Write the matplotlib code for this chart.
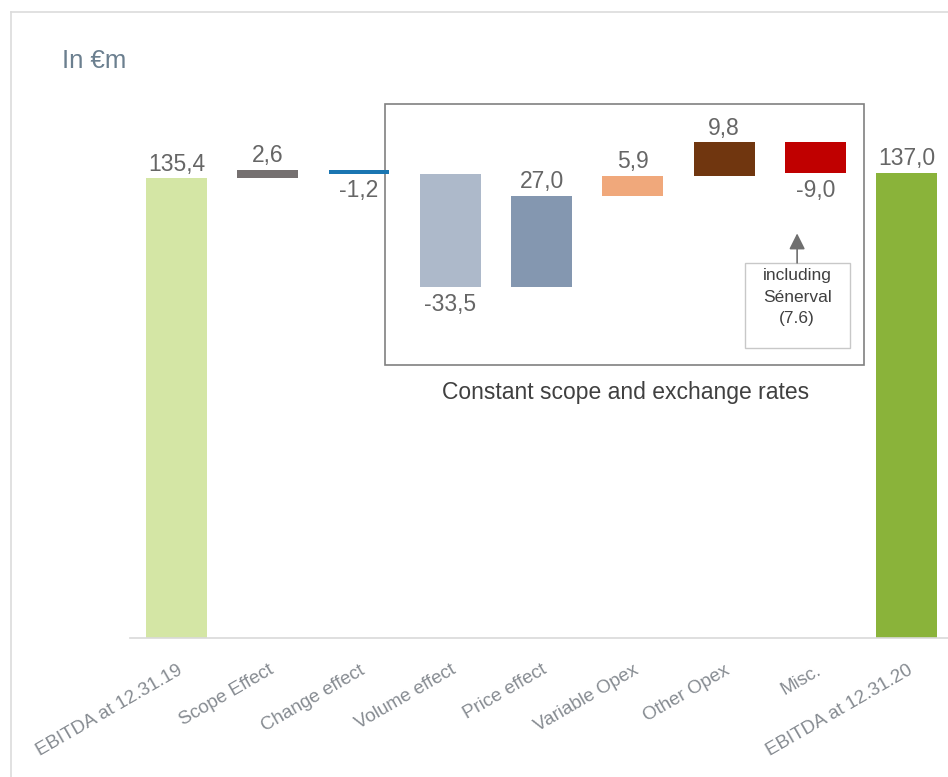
import matplotlib.pyplot as plt
from matplotlib.patches import Rectangle
from matplotlib.lines import Line2D

plt.rcParams['font.family'] = ['Liberation Sans', 'DejaVu Sans']

# data
categories = ['EBITDA at 12.31.19', 'Scope Effect', 'Change effect', 'Volume effect',
              'Price effect', 'Variable Opex', 'Other Opex', 'Misc.', 'EBITDA at 12.31.20']
values = [135.4, 2.6, -1.2, -33.5, 27.0, 5.9, 9.8, -9.0, 137.0]
is_total = [True, False, False, False, False, False, False, False, True]
colors = ['#d4e6a5', '#757070', '#1a76b2', '#adb9ca', '#8497b0',
          '#f0a87b', '#70360f', '#c00000', '#8ab33a']

# waterfall geometry
bottoms = []
heights = []
run = 0.0
for v, tot in zip(values, is_total):
    if tot:
        bottoms.append(0)
        heights.append(v)
        run = v
    else:
        if v >= 0:
            bottoms.append(run)
            heights.append(v)
        else:
            bottoms.append(run + v)
            heights.append(-v)
        run += v

fig = plt.figure(figsize=(9.48, 7.77), dpi=100)
ax = fig.add_axes([130 / 948, (777 - 638) / 777, 818 / 948, 538 / 777])

x = list(range(len(categories)))
ax.bar(x, heights, bottom=bottoms, width=0.668, color=colors, zorder=2)

for i, v in enumerate(values):
    lab = f"{v:.1f}".replace('.', ',')
    if v >= 0:
        ax.annotate(lab, (i, bottoms[i] + heights[i]), xytext=(0, 2), textcoords='offset points',
                    ha='center', va='bottom', fontsize=16.5, color='#666666')
    else:
        ax.annotate(lab, (i, bottoms[i]), xytext=(0, -4), textcoords='offset points',
                    ha='center', va='top', fontsize=16.5, color='#666666')

ax.set_xlim(-0.509, 8.453)
ax.set_ylim(0, 158.5)
ax.set_yticks([])
ax.set_xticks(x)
ax.set_xticklabels(categories)
ax.tick_params(axis='x', length=0, pad=17, labelsize=13.5, labelcolor='#868b91')
plt.setp(ax.get_xticklabels(), rotation=30, ha='right', va='top', rotation_mode='anchor')
for s in ['top', 'right', 'left']:
    ax.spines[s].set_visible(False)
ax.spines['bottom'].set_color('#d9d9d9')
ax.spines['bottom'].set_linewidth(1.2)

# constant scope box
ax.add_patch(Rectangle((2.284, 80.4), 5.249, 76.9, fill=False, ec='#808080', lw=1.2, clip_on=False, zorder=1))
ax.text(4.925, 72.2, 'Constant scope and exchange rates', ha='center', va='center',
        fontsize=16.5, color='#404040')

# note on Misc.
ax.add_patch(Rectangle((6.229, 85.4), 1.15, 25.1, fc='white', ec='#c8c8c8', lw=1, zorder=3))
ax.text(6.80, 100.4, 'including\nSénerval\n(7.6)', ha='center', va='center', fontsize=12.5,
        color='#404040', linespacing=1.55, zorder=4)
ax.annotate('', xy=(6.80, 119.2), xytext=(6.80, 110.5),
            arrowprops=dict(arrowstyle='-|>', color='#6f6f6f', lw=1.2, mutation_scale=24,
                            shrinkA=0, shrinkB=0))

fig.text(62 / 948, 1 - 61 / 777, 'In €m', fontsize=18.5, color='#6b7f8f', va='center',
         family=['Liberation Sans Narrow', 'Liberation Sans', 'DejaVu Sans'])

# panel border
fig.add_artist(Line2D([11 / 948, 1], [1 - 12 / 777, 1 - 12 / 777], color='#dcdcdc', lw=1.2,
                      transform=fig.transFigure))
fig.add_artist(Line2D([11 / 948, 11 / 948], [0, 1 - 12 / 777], color='#dcdcdc', lw=1.2,
                      transform=fig.transFigure))

plt.savefig('out.png', dpi=100)
